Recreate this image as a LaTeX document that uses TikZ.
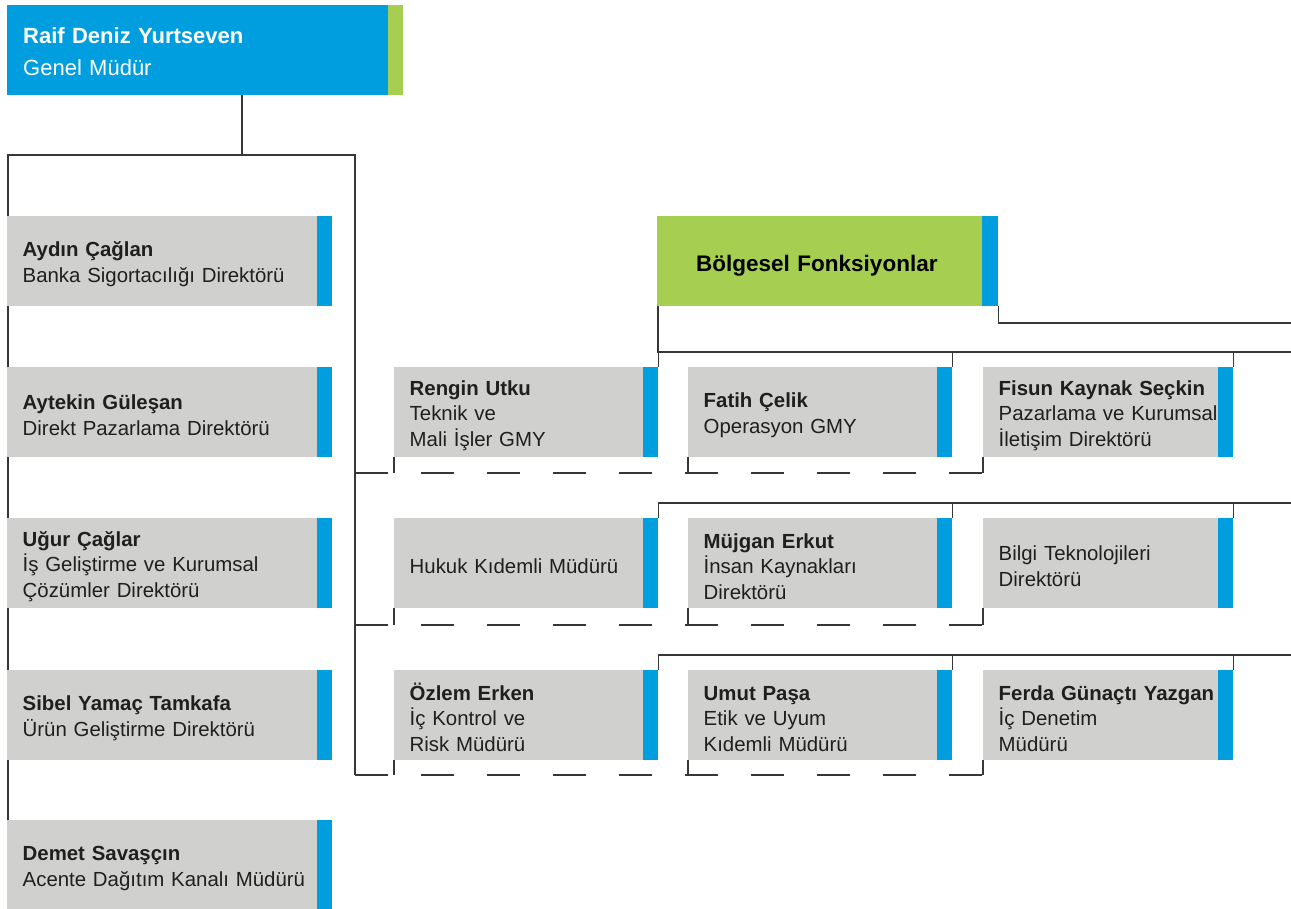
\documentclass[tikz,border=0pt]{standalone}
\usepackage{fontspec}
\setmainfont{Liberation Sans}
\usetikzlibrary{backgrounds}
\hyphenpenalty=10000
\exhyphenpenalty=10000

\definecolor{orgblue}{RGB}{0,158,222}
\definecolor{orggreen}{RGB}{166,207,81}
\definecolor{orggray}{RGB}{208,208,207}
\definecolor{orgline}{RGB}{55,55,55}

\tikzset{
  staff/.style={anchor=north west, fill=orggray, minimum width=#1pt, text width=#1pt-31pt,
    minimum height=90pt, inner xsep=15.5pt, inner ysep=0pt, align=left, text=black!88,
    font=\fontsize{20.4}{25.5}\selectfont, execute at begin node={\rule{0pt}{21pt}},
    path picture={\fill[orgblue] ([xshift=-15pt]path picture bounding box.north east) rectangle (path picture bounding box.south east);}},
  chief/.style={anchor=north west, fill=orgblue, minimum width=396pt, text width=364pt,
    minimum height=90pt, inner xsep=16pt, inner ysep=0pt, align=left, text=white,
    font=\fontsize{22}{32}\selectfont, execute at begin node={\rule{0pt}{19pt}},
    path picture={\fill[orggreen] ([xshift=-15pt]path picture bounding box.north east) rectangle (path picture bounding box.south east);}},
  region/.style={anchor=north west, fill=orggreen, minimum width=341pt, text width=263pt,
    minimum height=90pt, inner xsep=39pt, inner ysep=0pt, align=left,
    font=\fontsize{22.5}{25}\selectfont\bfseries, execute at begin node={\rule{0pt}{24.5pt}},
    path picture={\fill[orgblue] ([xshift=-16pt]path picture bounding box.north east) rectangle (path picture bounding box.south east);}},
  link/.style={draw=orgline, line width=1.3pt},
}

\begin{document}
\begin{tikzpicture}[x=1pt,y=-1pt]
\useasboundingbox (0,0) rectangle (1291,909);

\node[chief] (gm) at (7,5) {\textbf{Raif Deniz Yurtseven}\\Genel Müdür};

\node[staff=325] (aydin) at (7,216) {\textbf{Aydın Çağlan}\\Banka Sigortacılığı Direktörü};
\node[staff=325] (aytekin) at (7,367) {\textbf{Aytekin Güleşan}\\Direkt Pazarlama Direktörü};
\node[staff=325] (ugur) at (7,518) {\textbf{Uğur Çağlar}\\İş Geliştirme ve Kurumsal\\Çözümler Direktörü};
\node[staff=325] (sibel) at (7,670) {\textbf{Sibel Yamaç Tamkafa}\\Ürün Geliştirme Direktörü};
\node[staff=325] (demet) at (7,820) {\textbf{Demet Savaşçın}\\Acente Dağıtım Kanalı Müdürü};

\node[region] (bolge) at (657,216) {Bölgesel Fonksiyonlar};

\node[staff=264] (utku) at (394,367) {\textbf{Rengin Utku}\\Teknik ve\\Mali İşler GMY};
\node[staff=264] (celik) at (688,367) {\textbf{Fatih Çelik}\\Operasyon GMY};
\node[staff=250] (kaynak) at (983,367) {\textbf{Fisun Kaynak Seçkin}\\Pazarlama ve Kurumsal\\İletişim Direktörü};

\node[staff=264] (hukuk) at (394,518) {Hukuk Kıdemli Müdürü};
\node[staff=264] (erkut) at (688,518) {\textbf{Müjgan Erkut}\\İnsan Kaynakları\\Direktörü};
\node[staff=250] (bilgi) at (983,518) {Bilgi Teknolojileri\\Direktörü};

\node[staff=264] (ozlem) at (394,670) {\textbf{Özlem Erken}\\İç Kontrol ve\\Risk Müdürü};
\node[staff=264] (pasa) at (688,670) {\textbf{Umut Paşa}\\Etik ve Uyum\\Kıdemli Müdürü};
\node[staff=250] (yazgan) at (983,670) {\textbf{Ferda Günaçtı Yazgan}\\İç Denetim\\Müdürü};

\coordinate (split) at (242,155);
\coordinate (trunk) at (355,155);
\coordinate (d1) at (983,473);
\coordinate (d2) at (983,625);
\coordinate (d3) at (983,775);
\coordinate (r0) at (1291,323);
\coordinate (r1) at (1291,352);
\coordinate (r2) at (1291,503);
\coordinate (r3) at (1291,655);

\begin{scope}[on background layer]
\draw[link] ([xshift=1pt]demet.north west) |- (trunk) -- (trunk |- d3);
\end{scope}
\draw[link] (split |- gm.south) -- (split);

\draw[link, dash pattern=on 33pt off 33pt] (trunk |- d1) -- (d1);
\draw[link, dash pattern=on 33pt off 33pt] (trunk |- d2) -- (d2);
\draw[link, dash pattern=on 33pt off 33pt] (trunk |- d3) -- (d3);
\foreach \n/\d in {utku/d1,celik/d1,kaynak/d1,hukuk/d2,erkut/d2,bilgi/d2,ozlem/d3,pasa/d3,yazgan/d3}
  \draw[link] (\n.south west) -- (\n.south west |- \d);

\draw[link] (bolge.south east) |- (r0);
\draw[link] ([xshift=1pt]bolge.south west) |- (r1);
\draw[link] (hukuk.north east) |- (r2);
\draw[link] (ozlem.north east) |- (r3);
\foreach \n/\r in {utku/r1,celik/r1,kaynak/r1,erkut/r2,bilgi/r2,pasa/r3,yazgan/r3}
  \draw[link] (\n.north east) -- (\n.north east |- \r);
\end{tikzpicture}
\end{document}
